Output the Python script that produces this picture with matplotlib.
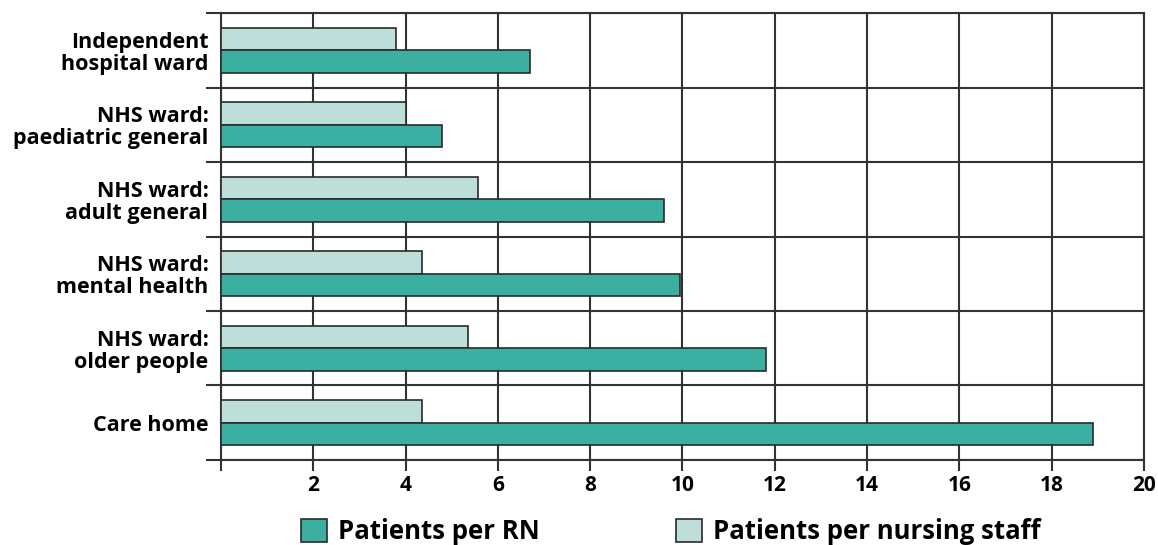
import numpy as np
import matplotlib
matplotlib.use("Agg")
import matplotlib.pyplot as plt
from matplotlib.patches import Patch

# Data
categories = [
    "Independent\nhospital ward",
    "NHS ward:\npaediatric general",
    "NHS ward:\nadult general",
    "NHS ward:\nmental health",
    "NHS ward:\nolder people",
    "Care home",
]
per_rn = [6.7, 4.8, 9.6, 9.95, 11.8, 18.9]
per_staff = [3.8, 4.02, 5.58, 4.35, 5.35, 4.35]
x_ticks = [0, 2, 4, 6, 8, 10, 12, 14, 16, 18, 20]
x_labels = ["", "2", "4", "6", "8", "10", "12", "14", "16", "18", "20"]

dark = "#3bafa1"
light = "#bedfd9"
edge = "#2a2a2a"
line_col = "#333333"

plt.rcParams["font.family"] = ["Open Sans", "DejaVu Sans"]
plt.rcParams["font.weight"] = "bold"

fig = plt.figure(figsize=(11.58, 5.45), dpi=100)
ax = fig.add_axes([0.1908, 0.156, 0.7971, 0.820])

y = np.arange(len(categories))
h = 0.3
ax.barh(y - h / 2, per_staff, height=h, color=light, edgecolor=edge, linewidth=1.2, zorder=3)
ax.barh(y + h / 2, per_rn, height=h, color=dark, edgecolor=edge, linewidth=1.2, zorder=3)

ax.set_xlim(0, 20)
ax.set_ylim(len(categories) - 0.5, -0.5)

ax.set_xticks(x_ticks)
ax.set_xticklabels(x_labels, fontsize=15, fontweight="bold")
ax.tick_params(axis="x", direction="out", length=8, width=1.5, color=line_col, pad=3)

ax.set_yticks(y)
ax.set_yticklabels(categories, fontsize=15.5, fontweight="bold", linespacing=1.05)
ax.tick_params(axis="y", which="major", length=0, pad=9)
ax.set_yticks(np.arange(-0.5, len(categories)), minor=True)
ax.tick_params(axis="y", which="minor", direction="out", length=11, width=1.5, color=line_col)

ax.grid(axis="x", which="major", color=line_col, linewidth=1.5, zorder=0)
ax.grid(axis="y", which="minor", color=line_col, linewidth=1.5, zorder=0)
ax.set_axisbelow(True)
for s in ax.spines.values():
    s.set_color(line_col)
    s.set_linewidth(1.5)

handles = [
    Patch(facecolor=dark, edgecolor=edge, linewidth=1.2, label="Patients per RN"),
    Patch(facecolor=light, edgecolor=edge, linewidth=1.2, label="Patients per nursing staff"),
]
fig.legend(handles=handles, loc="lower left", bbox_to_anchor=(0.24, -0.043), ncol=2,
           frameon=False, prop={"size": 18.5, "weight": "bold"},
           handlelength=1.0, handleheight=1.0, handletextpad=0.45, columnspacing=5.3)

fig.savefig("out.png", dpi=100)
